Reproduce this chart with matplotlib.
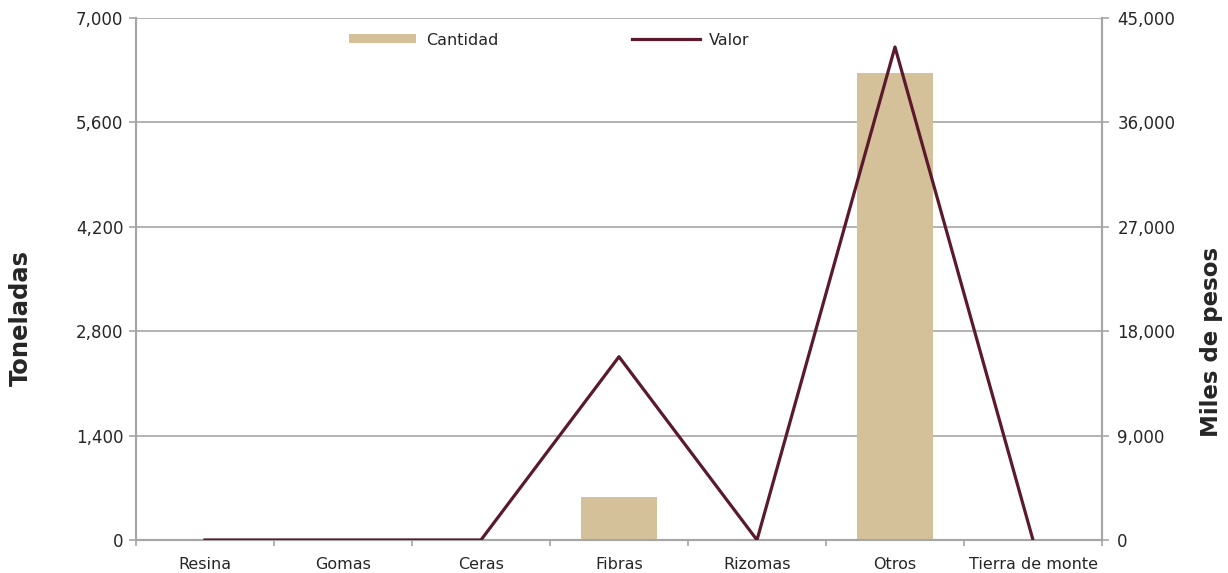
import numpy as np
import matplotlib.pyplot as plt
from matplotlib.ticker import FuncFormatter, MultipleLocator

categorias = ["Resina", "Gomas", "Ceras", "Fibras", "Rizomas", "Otros", "Tierra de monte"]
cantidad = [0, 0, 0, 580, 0, 6260, 0]        # toneladas
valor = [0, 0, 0, 15800, 0, 42500, 0]        # miles de pesos

BAR_COLOR = "#D4C19A"
LINE_COLOR = "#5A1A2B"
GRID = "#A6A6A6"
TXT = "#262626"

plt.rcParams['font.family'] = ['DejaVu Sans']

fig = plt.figure(figsize=(12.28, 5.73), dpi=100)
ax = fig.add_axes([0.1107, 0.0576, 0.7867, 0.911])
ax2 = ax.twinx()

x = np.arange(len(categorias))
ax.bar(x, cantidad, width=0.55, color=BAR_COLOR, label="Cantidad", zorder=2)
ax2.plot(x, valor, color=LINE_COLOR, lw=2.3, label="Valor", zorder=3)

ax.set_xlim(-0.5, len(categorias) - 0.5)
ax.set_ylim(0, 7000)
ax2.set_ylim(0, 45000)
ax.yaxis.set_major_locator(MultipleLocator(1400))
ax2.yaxis.set_major_locator(MultipleLocator(9000))
fmt = FuncFormatter(lambda v, p: f"{int(v):,}")
ax.yaxis.set_major_formatter(fmt)
ax2.yaxis.set_major_formatter(fmt)

ax.grid(axis='y', color=GRID, lw=1.2, zorder=0)
ax.set_axisbelow(True)

ax.set_xticks(x)
ax.set_xticklabels(categorias)
ax.set_xticks(np.arange(-0.5, len(categorias)), minor=True)
ax.tick_params(axis='x', which='major', length=0, pad=12, labelsize=11.5, labelcolor=TXT)
ax.tick_params(axis='x', which='minor', length=4, color=GRID, width=1.2)
ax.tick_params(axis='y', length=5, color=GRID, width=1.2, labelsize=12, labelcolor=TXT, pad=4)
ax2.tick_params(axis='y', length=5, color=GRID, width=1.2, labelsize=12, labelcolor=TXT, pad=6)

for a in (ax, ax2):
    for s in a.spines.values():
        s.set_color(GRID)
        s.set_linewidth(1.5)
    a.spines['top'].set_visible(False)

ax.set_ylabel("Toneladas", fontsize=17.5, fontweight='bold', color=TXT)
ax2.set_ylabel("Miles de pesos", fontsize=16.5, fontweight='bold', color=TXT)
ax.yaxis.set_label_coords(-0.107, 0.425)
ax2.yaxis.set_label_coords(1.101, 0.379)

h1, l1 = ax.get_legend_handles_labels()
h2, l2 = ax2.get_legend_handles_labels()
fig.legend(h1 + h2, l1 + l2, loc='center', bbox_to_anchor=(0.4475, 0.93), ncol=2,
           frameon=False, fontsize=11.5, handlelength=4.2, handleheight=0.5,
           handletextpad=0.6, columnspacing=8.4, labelcolor=TXT)

fig.savefig("out.png", dpi=100)
